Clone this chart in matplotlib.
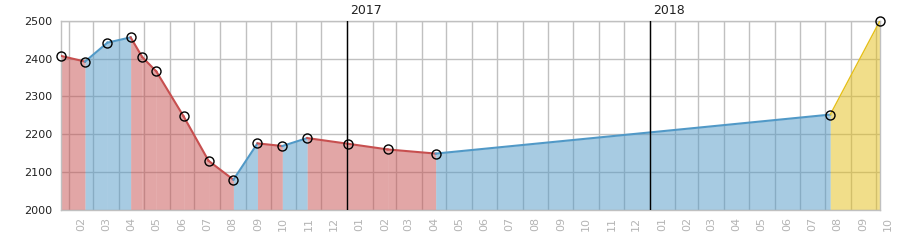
import datetime as dt
import matplotlib
matplotlib.use('Agg')
import matplotlib.pyplot as plt
import matplotlib.dates as mdates

# data points
dates = ['2016-01-22', '2016-02-20', '2016-03-18', '2016-04-15', '2016-04-29',
         '2016-05-16', '2016-06-18', '2016-07-18', '2016-08-17', '2016-09-15',
         '2016-10-15', '2016-11-14', '2017-01-02', '2017-02-19', '2017-04-18',
         '2018-08-07', '2018-10-06']
values = [2407, 2392, 2442, 2456, 2404, 2366, 2247, 2130, 2080, 2176,
          2169, 2190, 2175, 2160, 2149, 2252, 2500]
forecast_from = 15          # last segment (index 15 -> 16) is the projection
years = [2017, 2018]
yticks = [2000, 2100, 2200, 2300, 2400, 2500]

COL_DOWN = '#c74f4f'
COL_UP = '#5199c7'
COL_PROJ = '#e5bf17'
GRID = '#c0c0c0'

x = [dt.datetime.strptime(d, '%Y-%m-%d') for d in dates]

fig = plt.figure(figsize=(9, 2.5), dpi=100)
ax = fig.add_axes([61 / 900, 40 / 250, 819 / 900, 189.3 / 250])

ax.set_xlim(x[0], x[-1])
ax.set_ylim(2000, 2500)

# grid below the fills, fills semi transparent so grid shows through
ax.set_axisbelow(True)
ax.xaxis.set_major_locator(mdates.MonthLocator())
ax.set_yticks(yticks)
ax.grid(True, color=GRID, linewidth=1)
ax.tick_params(axis='x', which='both', length=0, labelbottom=False)
ax.tick_params(axis='y', length=0, pad=6, labelsize=8, labelcolor='#222222')
for s in ax.spines.values():
    s.set_color(GRID)
    s.set_linewidth(1)

for i in range(len(x) - 1):
    if i >= forecast_from:
        c, lw = COL_PROJ, 1.0
    elif values[i + 1] < values[i]:
        c, lw = COL_DOWN, 1.5
    else:
        c, lw = COL_UP, 1.5
    ax.fill_between(x[i:i + 2], values[i:i + 2], 2000, color=c, alpha=0.5,
                    linewidth=0, zorder=2)
    ax.plot(x[i:i + 2], values[i:i + 2], color=c, linewidth=lw, zorder=3)

ax.plot(x, values, linestyle='none', marker='o', markersize=6.5,
        markerfacecolor='none', markeredgecolor='black', markeredgewidth=1,
        zorder=5, clip_on=False)

# year separators
for yr in years:
    d = dt.datetime(yr, 1, 1)
    ax.axvline(d, color='black', linewidth=1, zorder=4)
    ax.annotate(str(yr), xy=(d, 1), xycoords=('data', 'axes fraction'),
                xytext=(2.5, 3), textcoords='offset points',
                ha='left', va='bottom', fontsize=9, color='#222222')

# month labels in the middle of each month, rotated
m = dt.datetime(2016, 2, 1)
while m <= dt.datetime(2018, 10, 1):
    mid = m + dt.timedelta(days=15)
    ax.annotate(m.strftime('%m'), xy=(mid, 0), xycoords=('data', 'axes fraction'),
                xytext=(0, -5), textcoords='offset points',
                ha='center', va='top', rotation=90, fontsize=8,
                color='#b4b4b4', annotation_clip=False)
    m = dt.datetime(m.year + (m.month // 12), m.month % 12 + 1, 1)

fig.savefig('out.png', dpi=100)
